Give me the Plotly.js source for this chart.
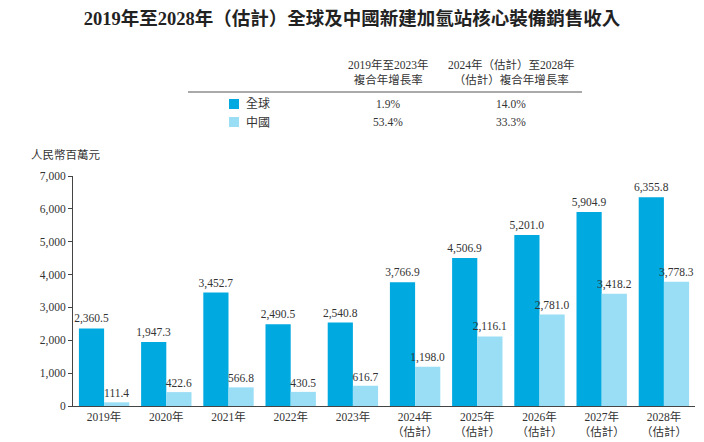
<!DOCTYPE html>
<html>
<head>
<meta charset="utf-8">
<script src="https://cdn.plot.ly/plotly-3.0.1.min.js"></script>
<style>html,body{margin:0;padding:0;background:#fff;}#chart{width:704px;height:442px;}</style>
</head>
<body>
<div id="chart"></div>
<script>
var categories = ["2019年", "2020年", "2021年", "2022年", "2023年",
  "2024年<br>（估計）", "2025年<br>（估計）", "2026年<br>（估計）", "2027年<br>（估計）", "2028年<br>（估計）"];
var globalValues = [2360.5, 1947.3, 3452.7, 2490.5, 2540.8, 3766.9, 4506.9, 5201.0, 5904.9, 6355.8];
var chinaValues = [111.4, 422.6, 566.8, 430.5, 616.7, 1198.0, 2116.1, 2781.0, 3418.2, 3778.3];
var seriesNames = ["全球", "中國"];
var seriesColors = ['#00A9E0', '#99DEF5'];
var cagrHeaders = ["2019年至2023年<br>複合年增長率", "2024年（估計）至2028年<br>（估計）複合年增長率"];
var cagrGlobal = ["1.9%", "14.0%"];
var cagrChina = ["53.4%", "33.3%"];
var yTicks = [0, 1000, 2000, 3000, 4000, 5000, 6000, 7000];

var serif = "'Liberation Serif', 'Noto Sans CJK TC', serif";
var fmt = function (v) { return v.toLocaleString('en-US', {minimumFractionDigits: 1, maximumFractionDigits: 1}); };

var traces = [
  {type: 'bar', name: seriesNames[0], x: categories, y: globalValues,
   marker: {color: seriesColors[0]}, text: globalValues.map(fmt), textposition: 'outside', constraintext: 'none',
   cliponaxis: false, textfont: {family: serif, size: 11.5, color: '#333'}, hoverinfo: 'none'},
  {type: 'bar', name: seriesNames[1], x: categories, y: chinaValues,
   marker: {color: seriesColors[1]}, text: chinaValues.map(fmt), textposition: 'outside', constraintext: 'none',
   cliponaxis: false, textfont: {family: serif, size: 11.5, color: '#333'}, hoverinfo: 'none'}
];

// paper coordinate helpers (plot area: x 73..695, y 176..406)
function px(x) { return (x - 73) / 622; }
function py(y) { return (406 - y) / 230; }

function label(text, x, y, anchor, size) {
  return {text: text, xref: 'paper', yref: 'paper', x: px(x), y: py(y), xanchor: anchor || 'center',
          yanchor: 'middle', showarrow: false, font: {family: serif, size: size || 11.5, color: '#333'}};
}

var annotations = [
  label("人民幣百萬元", 29, 155, 'left', 11.5),
  label(cagrHeaders[0], 388, 72),
  label(cagrHeaders[1], 511, 72),
  label(seriesNames[0], 244, 104, 'left', 12),
  label(seriesNames[1], 244, 122, 'left', 12),
  label(cagrGlobal[0], 388, 104),
  label(cagrGlobal[1], 511, 104),
  label(cagrChina[0], 388, 122),
  label(cagrChina[1], 511, 122)
];

var shapes = [
  {type: 'line', xref: 'paper', yref: 'paper', x0: px(188), x1: px(582), y0: py(92), y1: py(92),
   line: {color: '#555', width: 1}},
  {type: 'rect', xref: 'paper', yref: 'paper', x0: px(229), x1: px(239), y0: py(99), y1: py(109),
   fillcolor: seriesColors[0], line: {width: 0}},
  {type: 'rect', xref: 'paper', yref: 'paper', x0: px(229), x1: px(239), y0: py(117), y1: py(127),
   fillcolor: seriesColors[1], line: {width: 0}}
];

var layout = {
  width: 704, height: 442,
  margin: {l: 73, r: 9, t: 176, b: 36},
  paper_bgcolor: '#fff', plot_bgcolor: '#fff',
  title: {text: "<b>2019年至2028年（估計）全球及中國新建加氫站核心裝備銷售收入</b>",
          x: 0.5, xanchor: 'center', y: 1 - 19 / 442, yanchor: 'middle', yref: 'container',
          font: {family: serif, size: 18.5, color: '#222'}},
  barmode: 'group', bargap: 0.19, bargroupgap: 0,
  showlegend: false,
  xaxis: {type: 'category', showline: true, linecolor: '#444', linewidth: 1, ticks: '',
          showgrid: false, zeroline: false,
          tickfont: {family: serif, size: 11.5, color: '#333'}},
  yaxis: {range: [0, 7000], tickvals: yTicks, tickformat: ',d', showline: true, linecolor: '#444',
          linewidth: 1, ticks: 'outside', ticklen: 4, tickcolor: '#444', showgrid: false, zeroline: false,
          tickfont: {family: serif, size: 11.5, color: '#333'}},
  annotations: annotations,
  shapes: shapes,
  font: {family: serif}
};

Plotly.newPlot('chart', traces, layout, {displayModeBar: false, staticPlot: true});
</script>
</body>
</html>
